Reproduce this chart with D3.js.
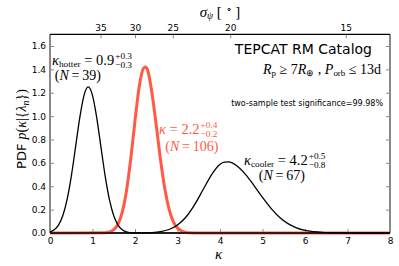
<!DOCTYPE html>
<html>
<head>
<meta charset="UTF-8">
<script src="https://cdn.jsdelivr.net/npm/d3@7"></script>
<style>
  body { margin: 0; background: #fff; }
  svg text { font-family: "DejaVu Sans", sans-serif; }
  svg .math { font-family: "Liberation Serif", serif; }
</style>
</head>
<body>
<svg id="chart" width="399" height="266"></svg>
<script>
// curves (kappa, pdf)
const hotK = [0,0.1,0.2,0.3,0.4,0.5,0.6,0.7,0.8,0.9,1.0,1.1,1.2,1.3,1.4,1.5,1.6,1.7,1.8,1.9,2.0,2.2,8];
const hotP = [0.010,0.028,0.068,0.147,0.283,0.483,0.732,0.985,1.178,1.25,1.178,0.985,0.732,0.483,0.283,0.147,0.068,0.028,0.010,0.003,0.001,0,0];

const allK = [0,1.3,1.4,1.5,1.6,1.7,1.8,1.9,2.0,2.1,2.2,2.25,2.3,2.4,2.5,2.6,2.7,2.8,2.9,3.0,3.1,3.2,3.3,3.5,8];
const allP = [0,0.002,0.009,0.028,0.075,0.178,0.362,0.635,0.96,1.253,1.41,1.42,1.39,1.196,0.921,0.629,0.382,0.206,0.098,0.042,0.016,0.005,0.002,0,0];

const coolK = [0,2.0,2.2,2.4,2.6,2.8,3.0,3.2,3.4,3.6,3.8,4.0,4.1,4.2,4.4,4.6,4.8,5.0,5.2,5.4,5.6,5.8,6.0,6.2,6.4,6.6,6.8,7.0,8];
const coolP = [0,0,0.001,0.004,0.012,0.030,0.069,0.137,0.241,0.370,0.498,0.588,0.607,0.608,0.574,0.502,0.406,0.304,0.211,0.135,0.080,0.044,0.022,0.011,0.005,0.002,0.001,0,0];

// axis ticks
const kappaTicks = [0,1,2,3,4,5,6,7,8];
const pdfTicks = [0,0.2,0.4,0.6,0.8,1.0,1.2,1.4,1.6];
const sigmaLabels = [35,30,25,20,15];
const sigmaAtKappa = [1.19,2.0,2.89,4.24,6.96];

const red = "#ff5a45";
const spine = "#8a8a8a";
const thin = "\u2009";

const svg = d3.select("#chart");
const x = d3.scaleLinear().domain([0, 8]).range([50, 390]);
const y = d3.scaleLinear().domain([0, 1.7]).range([233, 34.3]);

// axes (ticks point inward)
const xAx = svg.append("g").attr("transform", "translate(0,233)")
  .call(d3.axisBottom(x).tickValues(kappaTicks).tickFormat(d3.format("d")).tickSize(-4).tickPadding(5));
const yAx = svg.append("g").attr("transform", "translate(50,0)")
  .call(d3.axisLeft(y).tickValues(pdfTicks).tickFormat(d3.format(".1f")).tickSize(-4).tickPadding(4));
const rAx = svg.append("g").attr("transform", "translate(390,0)")
  .call(d3.axisRight(y).tickValues(pdfTicks).tickFormat("").tickSize(-4));
const tAx = svg.append("g").attr("transform", "translate(0,34.3)")
  .call(d3.axisTop(x).tickValues(sigmaAtKappa).tickFormat((d, i) => sigmaLabels[i]).tickSize(-4).tickPadding(3));

[xAx, yAx, rAx, tAx].forEach(g => {
  g.select(".domain").remove();
  g.selectAll("line").attr("stroke", spine);
  g.selectAll("text").attr("font-size", 9).attr("fill", "#000")
    .style("font-family", "'DejaVu Sans', sans-serif");
});

// spines
svg.append("line").attr("x1", 50).attr("x2", 50).attr("y1", 34.3).attr("y2", 233)
  .attr("stroke", spine).attr("stroke-width", 2);
svg.append("line").attr("x1", 390).attr("x2", 390).attr("y1", 34.3).attr("y2", 233)
  .attr("stroke", spine).attr("stroke-width", 2);
svg.append("line").attr("x1", 50).attr("x2", 390).attr("y1", 233).attr("y2", 233)
  .attr("stroke", spine).attr("stroke-width", 2);

// curves
const line = d3.line().x(d => x(d[0])).y(d => y(d[1])).curve(d3.curveMonotoneX);
svg.append("path").datum(d3.zip(allK, allP)).attr("d", line)
  .attr("fill", "none").attr("stroke", red).attr("stroke-width", 3);
svg.append("path").datum(d3.zip(hotK, hotP)).attr("d", line)
  .attr("fill", "none").attr("stroke", "#000").attr("stroke-width", 1.3);
svg.append("path").datum(d3.zip(coolK, coolP)).attr("d", line)
  .attr("fill", "none").attr("stroke", "#000").attr("stroke-width", 1.3);

svg.append("line").attr("x1", 50).attr("x2", 390).attr("y1", 34.3).attr("y2", 34.3)
  .attr("stroke", "#000").attr("stroke-width", 1.2);

// math-ish text: parts = [text, style] with style i (italic), r, s (subscript), si (italic sub), u (raised)
function mathText(parent, px, py, parts, size, color, anchor, sup, sub) {
  const g = parent.append("g");
  const t = g.append("text").attr("class", "math").attr("font-size", size).attr("fill", color);
  let off = 0;
  parts.forEach(([s, st]) => {
    const want = (st === "s" || st === "si") ? size * 0.12 : st === "u" ? -size * 0.35 : 0;
    const ts = t.append("tspan").text(s).attr("dy", want - off);
    off = want;
    if (st === "i" || st === "si") ts.attr("font-style", "italic");
    if (st === "s" || st === "si" || st === "u") ts.attr("font-size", size * 0.64);
  });
  if (sup) {
    const w = t.node().getComputedTextLength();
    g.append("text").attr("class", "math").attr("x", w + 1).attr("y", -size * 0.44)
      .attr("font-size", size * 0.64).attr("fill", color).text(sup);
    g.append("text").attr("class", "math").attr("x", w + 1).attr("y", size * 0.22)
      .attr("font-size", size * 0.64).attr("fill", color).text(sub);
  }
  const bw = g.node().getBBox().width;
  const sx = anchor === "end" ? px - bw : anchor === "middle" ? px - bw / 2 : px;
  g.attr("transform", `translate(${sx},${py})`);
  return g;
}

// annotations
mathText(svg, 52, 65, [["κ", "i"], ["hotter", "s"], [" = 0.9", "r"]], 14.5, "#000", "start", "+0.3", "−0.3");
mathText(svg, 78, 80, [["(", "r"], ["N", "i"], [thin + "=" + thin + "39)", "r"]], 14, "#000", "middle");
mathText(svg, 159, 134, [["κ", "i"], [" = 2.2", "r"]], 14.5, red, "start", "+0.4", "−0.2");
mathText(svg, 192, 151, [["(", "r"], ["N", "i"], [thin + "=" + thin + "106)", "r"]], 14, red, "middle");
mathText(svg, 244, 165, [["κ", "i"], ["cooler", "s"], [" = 4.2", "r"]], 14.5, "#000", "start", "+0.5", "−0.8");
mathText(svg, 282, 180, [["(", "r"], ["N", "i"], [thin + "=" + thin + "67)", "r"]], 14, "#000", "middle");

svg.append("text").attr("x", 372).attr("y", 54).attr("text-anchor", "end")
  .attr("font-size", 14).text("TEPCAT RM Catalog");
mathText(svg, 382, 74, [["R", "i"], ["p", "s"], [" ≥ 7", "r"], ["R", "i"], ["⊕", "s"], [" , ", "r"],
  ["P", "i"], ["orb", "s"], [" ≤ 13d", "r"]], 14, "#000", "end");
svg.append("text").attr("x", 383).attr("y", 105.5).attr("text-anchor", "end")
  .attr("font-size", 8).text("two-sample test significance=99.98%");

// axis titles
mathText(svg, 220, 17, [["σ", "i"], ["ψ", "si"], [" [ ", "r"], ["∘", "u"], [" ]", "r"]], 15, "#000", "middle");
mathText(svg, 219, 259, [["κ", "i"]], 15, "#000", "middle");

const yl = svg.append("g").attr("transform", "translate(26,129) rotate(-90)");
const ylt = yl.append("text").attr("text-anchor", "middle").attr("font-size", 13);
ylt.append("tspan").text("PDF  ");
const mp = ylt.append("tspan").attr("class", "math").style("font-family", "'Liberation Serif', serif")
  .attr("font-size", 14);
mp.append("tspan").attr("font-style", "italic").text("p");
mp.append("tspan").text("(");
mp.append("tspan").attr("font-style", "italic").text("κ");
mp.append("tspan").text("|{");
mp.append("tspan").attr("font-style", "italic").text("λ");
mp.append("tspan").attr("font-style", "italic").attr("font-size", 10).attr("dy", 3).text("n");
mp.append("tspan").attr("dy", -3).text("})");
</script>
</body>
</html>
